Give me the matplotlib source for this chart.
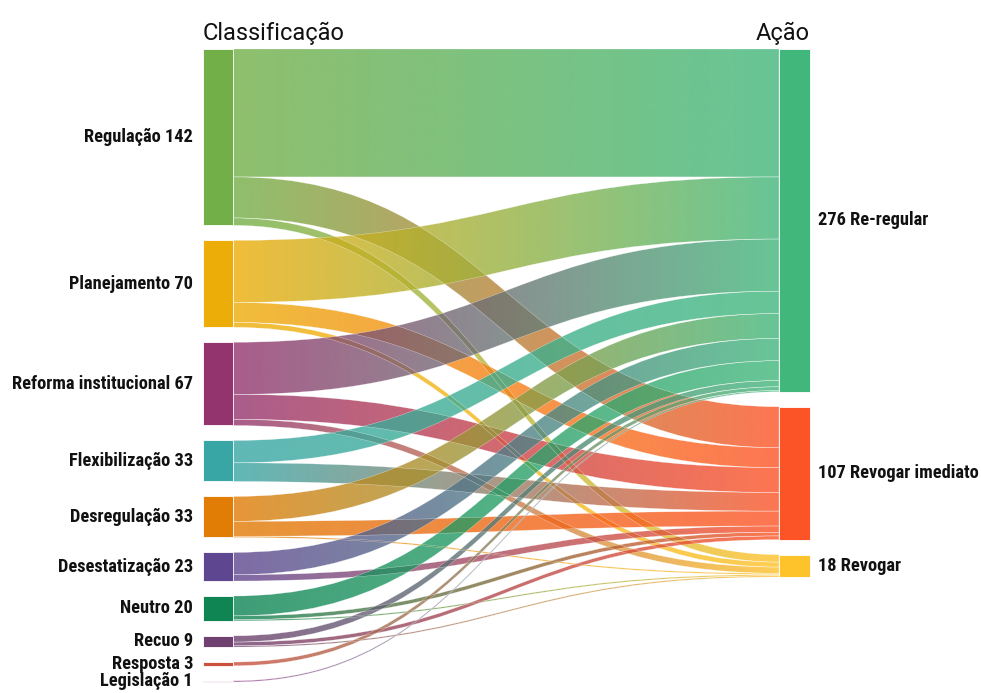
import matplotlib
matplotlib.use("Agg")
import matplotlib.pyplot as plt
import numpy as np
from matplotlib.path import Path
from matplotlib.patches import PathPatch, Rectangle
from matplotlib import font_manager
from matplotlib.colors import to_rgb

sources = ["Regulação", "Planejamento", "Reforma institucional", "Flexibilização",
           "Desregulação", "Desestatização", "Neutro", "Recuo", "Resposta", "Legislação"]
source_colors = ["#73AF48", "#EDAD08", "#94346E", "#38A6A5", "#E17C05",
                 "#5F4690", "#0F8554", "#6F4070", "#CC503E", "#994E95"]
targets = ["Re-regular", "Revogar imediato", "Revogar"]
target_colors = ["#42B77C", "#FD5427", "#FEC22A"]

# flows from each source to each target
to_reregular = [103, 50, 42, 18, 20, 18, 16, 5, 3, 1]
to_revogar_imediato = [33, 16, 20, 15, 12, 5, 3, 3, 0, 0]
to_revogar = [6, 4, 5, 0, 1, 0, 1, 1, 0, 0]

flows = np.array([to_reregular, to_revogar_imediato, to_revogar]).T  # (source, target)
src_tot = flows.sum(axis=1)
tgt_tot = flows.sum(axis=0)

names = {f.name for f in font_manager.fontManager.ttflist}
label_font = next((n for n in ["Roboto Condensed", "Roboto"] if n in names), "DejaVu Sans")
head_font = "Roboto" if "Roboto" in names else "DejaVu Sans"

fig = plt.figure(figsize=(9.81, 6.93), dpi=100)
ax = fig.add_axes([0, 0, 1, 1])

# layout in pixel space
x_left, x_right, node_w = 203, 779, 30
top, bottom, gap = 49, 682, 15
scale = (bottom - top - gap * (len(sources) - 1)) / src_tot.sum()

src_y = top + np.concatenate([[0], np.cumsum(src_tot * scale + gap)[:-1]])
tgt_y = top + np.concatenate([[0], np.cumsum(tgt_tot * scale + gap)[:-1]])

# links
src_off = src_y.copy()
tgt_off = tgt_y.copy()
link_specs = []
for i in range(len(sources)):
    for j in range(len(targets)):
        v = flows[i, j]
        if v <= 0:
            continue
        h = v * scale
        link_specs.append((i, j, src_off[i], tgt_off[j], h))
        src_off[i] += h
        tgt_off[j] += h

x0 = x_left + node_w
x1 = x_right
xm = (x0 + x1) / 2
grad = np.linspace(0, 1, 256)[:, None]
for i, j, ys, yt, h in link_specs:
    verts = [(x0, ys), (xm, ys), (xm, yt), (x1, yt),
             (x1, yt + h), (xm, yt + h), (xm, ys + h), (x0, ys + h), (x0, ys)]
    codes = [Path.MOVETO, Path.CURVE4, Path.CURVE4, Path.CURVE4,
             Path.LINETO, Path.CURVE4, Path.CURVE4, Path.CURVE4, Path.CLOSEPOLY]
    patch = PathPatch(Path(verts, codes), facecolor="none", edgecolor="white", lw=0.3, alpha=0.6, zorder=2)
    ax.add_patch(patch)
    c0 = np.array(to_rgb(source_colors[i]))
    c1 = np.array(to_rgb(target_colors[j]))
    rgb = c0 * (1 - grad) + c1 * grad
    rgba = np.concatenate([rgb, np.full((256, 1), 0.8)], axis=1)[None, :, :]
    im = ax.imshow(rgba, extent=[x0, x1, bottom + 20, top - 20], aspect="auto",
                   interpolation="bilinear", zorder=1)
    im.set_clip_path(patch)

# nodes
for k, name in enumerate(sources):
    h = src_tot[k] * scale
    ax.add_patch(Rectangle((x_left, src_y[k]), node_w, h, facecolor=source_colors[k],
                           edgecolor="white", lw=0.6, zorder=3))
    ax.text(x_left - 10, src_y[k] + h / 2, f"{name} {src_tot[k]}", ha="right", va="center",
            fontsize=13.2, fontweight="bold", family=label_font, color="#111111")

for k, name in enumerate(targets):
    h = tgt_tot[k] * scale
    ax.add_patch(Rectangle((x_right, tgt_y[k]), node_w + 1, h, facecolor=target_colors[k],
                           edgecolor="white", lw=0.6, zorder=3))
    ax.text(x_right + node_w + 9, tgt_y[k] + h / 2, f"{tgt_tot[k]} {name}", ha="left", va="center",
            fontsize=13.2, fontweight="bold", family=label_font, color="#111111")

ax.text(x_left, 40, "Classificação", ha="left", va="baseline", fontsize=17, family=head_font, color="#111111")
ax.text(x_right + node_w + 1, 40, "Ação", ha="right", va="baseline", fontsize=17, family=head_font, color="#111111")

ax.set_xlim(0, 981)
ax.set_ylim(693, 0)
ax.axis("off")
fig.savefig("out.png", dpi=100)
